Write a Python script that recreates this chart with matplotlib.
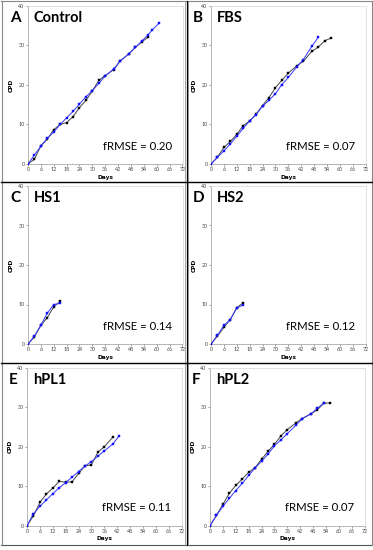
import matplotlib
matplotlib.use("Agg")
import matplotlib.pyplot as plt
from matplotlib.lines import Line2D

plt.rcParams['font.family'] = ['Lato', 'DejaVu Sans']

# ---- data ----
days_A_blue = [0, 3, 6, 9, 12, 15, 18, 21, 24, 27, 30, 33, 36, 40, 43, 47, 50, 53, 56, 58, 61]
cpd_A_blue = [0, 2.3, 4.5, 6.5, 8.1, 10.0, 11.7, 13.3, 15.2, 17.0, 18.6, 20.4, 22.3, 24.1, 26.1, 27.9, 29.5, 31.1, 32.7, 34.0, 35.6]
days_A_black = [0, 3, 6, 9, 12, 15, 18, 21, 24, 27, 30, 33, 36, 40, 43, 47, 50, 53, 56]
cpd_A_black = [0, 1.2, 4.6, 6.3, 8.7, 10.0, 10.5, 12.0, 14.3, 16.1, 18.5, 21.2, 22.4, 23.9, 26.1, 27.9, 29.5, 30.9, 32.1]

days_B_blue = [0, 3, 6, 9, 12, 15, 18, 21, 24, 27, 30, 33, 36, 40, 43, 47, 50]
cpd_B_blue = [0, 1.7, 3.3, 5.1, 7.0, 9.0, 10.9, 12.5, 14.6, 16.1, 17.8, 20.1, 21.9, 24.6, 26.4, 29.8, 32.1]
days_B_black = [0, 3, 6, 9, 12, 15, 18, 21, 24, 27, 30, 33, 36, 40, 43, 47, 50, 53, 56]
cpd_B_black = [0, 1.7, 4.2, 5.7, 7.5, 9.7, 10.9, 12.6, 14.8, 16.8, 19.3, 21.2, 23.0, 24.9, 26.0, 28.5, 29.6, 31.2, 31.9]

days_C_blue = [0, 3, 6, 9, 12, 15]
cpd_C_blue = [0, 2.0, 4.8, 7.8, 10.0, 10.3]
days_C_black = [0, 3, 6, 9, 12, 15]
cpd_C_black = [0, 1.8, 4.7, 6.7, 9.4, 10.8]

days_D_blue = [0, 3, 6, 9, 12, 15]
cpd_D_blue = [0, 2.2, 4.7, 6.2, 9.1, 9.9]
days_D_black = [0, 3, 6, 9, 12, 15]
cpd_D_black = [0, 2.0, 4.2, 6.2, 9.2, 10.4]

days_E_blue = [0, 3, 6, 9, 12, 15, 18, 21, 24, 27, 30, 33, 36, 40, 43]
cpd_E_blue = [0, 3.0, 4.9, 6.5, 8.1, 9.6, 10.9, 12.3, 13.7, 15.1, 16.2, 17.6, 18.9, 20.7, 22.8]
days_E_black = [0, 3, 6, 9, 12, 15, 18, 21, 24, 27, 30, 33, 36, 40]
cpd_E_black = [0, 2.5, 5.9, 8.0, 9.5, 11.2, 11.0, 11.1, 13.2, 15.1, 15.4, 18.6, 20.0, 22.4]

days_F_blue = [0, 3, 6, 9, 12, 15, 18, 21, 24, 27, 30, 33, 36, 40, 43, 47, 50, 53]
cpd_F_blue = [0, 2.6, 4.9, 6.9, 8.9, 10.7, 12.7, 14.6, 16.3, 18.1, 20.2, 21.7, 23.3, 25.4, 27.1, 28.3, 29.7, 31.0]
days_F_black = [0, 3, 6, 9, 12, 15, 18, 21, 24, 27, 30, 33, 36, 40, 43, 47, 50, 53, 56]
cpd_F_black = [0, 2.6, 5.4, 8.2, 10.2, 11.8, 13.5, 14.7, 16.8, 18.8, 20.6, 22.7, 24.3, 26.0, 27.1, 28.3, 29.3, 31.0, 31.0]

panel_letters = ["A", "B", "C", "D", "E", "F"]
panel_titles = ["Control", "FBS", "HS1", "HS2", "hPL1", "hPL2"]
frmse_values = ["0.20", "0.07", "0.14", "0.12", "0.11", "0.07"]
x_ticks = [0, 6, 12, 18, 24, 30, 36, 42, 48, 54, 60, 66, 72]
y_ticks = [0, 10, 20, 30, 40]

series = [
    (days_A_black, cpd_A_black, days_A_blue, cpd_A_blue),
    (days_B_black, cpd_B_black, days_B_blue, cpd_B_blue),
    (days_C_black, cpd_C_black, days_C_blue, cpd_C_blue),
    (days_D_black, cpd_D_black, days_D_blue, cpd_D_blue),
    (days_E_black, cpd_E_black, days_E_blue, cpd_E_blue),
    (days_F_black, cpd_F_black, days_F_blue, cpd_F_blue),
]

W, H = 373, 550
fig = plt.figure(figsize=(W / 100, H / 100), dpi=100)
fig.patch.set_facecolor('white')

# axes rectangles in pixels: left, right, top, bottom
rects = [
    (28, 182.5, 6, 164), (211, 365.5, 6, 164),
    (28, 182.5, 186, 344), (211, 365.5, 186, 344),
    (27, 181.7, 367.5, 525.7), (210, 364.7, 367.5, 525.7),
]

def fx(px):
    return px / W

def fy(py):
    return 1 - py / H

for i, (l, r, t, b) in enumerate(rects):
    ax = fig.add_axes([fx(l), fy(b), (r - l) / W, (b - t) / H])
    xb, yb, xbl, ybl = series[i]
    ax.plot(xb, yb, color='#444444', lw=0.7, marker='s', ms=1.9,
            mfc='black', mec='black', mew=0.3, zorder=2)
    ax.plot(xbl, ybl, color='#3535ff', lw=0.7, marker='s', ms=1.9,
            mfc='#1010ff', mec='#1010ff', mew=0.3, zorder=3)
    ax.set_xlim(0, 72)
    ax.set_ylim(0, 40)
    ax.set_xticks(x_ticks)
    ax.set_yticks(y_ticks)
    ax.tick_params(labelsize=3.8, length=1.5, width=0.4, pad=1,
                   colors='#555555', labelcolor='#444444')
    for s in ax.spines.values():
        s.set_color('#aaaaaa')
        s.set_linewidth(0.6)
    ax.spines['right'].set_color('#dddddd')
    ax.spines['top'].set_color('#dddddd')
    ax.set_xlabel('Days', fontsize=4.2, fontweight='bold', labelpad=1.5,
                  family=['DejaVu Sans'])
    ax.set_ylabel('CPD', fontsize=4.2, fontweight='bold', labelpad=3,
                  family=['DejaVu Sans'])
    # fRMSE
    ax.text(0.485, 0.09, 'fRMSE = ' + frmse_values[i], transform=ax.transAxes,
            fontsize=8.2, color='black', ha='left', va='baseline')
    # letter and title
    fig.text(fx(l - 18), fy(t + 16.5), panel_letters[i], fontsize=11,
             fontweight='bold', ha='left', va='baseline')
    fig.text(fx(l + 6), fy(t + 16.5), panel_titles[i], fontsize=10.5,
             fontweight='bold', ha='left', va='baseline')

# panel borders
def hline(y, x0, x1, color, lw):
    fig.add_artist(Line2D([fx(x0), fx(x1)], [fy(y), fy(y)], color=color, lw=lw,
                          transform=fig.transFigure))

def vline(x, y0, y1, color, lw):
    fig.add_artist(Line2D([fx(x), fx(x)], [fy(y0), fy(y1)], color=color, lw=lw,
                          transform=fig.transFigure))

# outer gray frame
hline(1, 1, 372, '#888888', 0.8)
hline(545, 1, 372, '#555555', 0.8)
vline(1.5, 1, 545, '#888888', 0.8)
vline(371.5, 1, 545, '#888888', 0.8)
# inner gray panel frames
vline(185, 1, 545, '#999999', 0.6)
vline(188, 1, 545, '#999999', 0.6)
# black separators
hline(182, 1, 372, 'black', 1.0)
hline(362.5, 1, 372, 'black', 1.0)
vline(186.5, 1, 545, 'black', 0.9)

fig.savefig('out.png', dpi=100)
